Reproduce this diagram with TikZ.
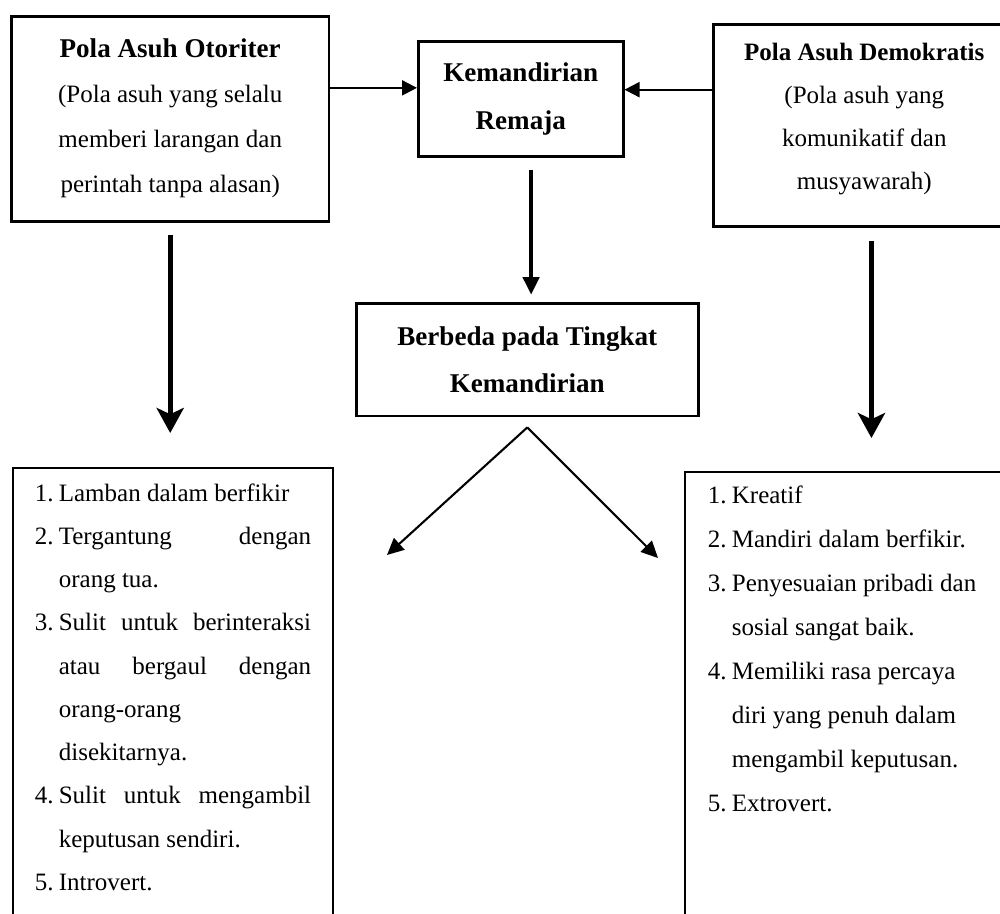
\documentclass[tikz,border=0pt]{standalone}
\usepackage{fontspec}
\setmainfont{Liberation Serif}
\usetikzlibrary{arrows.meta, positioning}
\newlength\numw
\setlength\numw{11.5pt}
\newcommand\itm[2]{\hangindent=\numw\hangafter=1\noindent\makebox[\numw][l]{#1.}#2\par}
\tikzset{
  every picture/.style={line width=1.2pt},
  box/.style={draw, anchor=north west, align=flush center, inner sep=3pt},
  head/.style={font=\fontsize{13}{23}\selectfont\bfseries},
  txt/.style={font=\fontsize{12}{#1}\selectfont},
  list/.style={anchor=north west, outer sep=0pt, font=\fontsize{12}{#1}\selectfont,
    execute at begin node={\tolerance=10000}},
  link/.style={-{Triangle[length=7.2pt, width=7.2pt]}, line width=1pt},
  down/.style={-{Triangle[length=8.6pt, width=7.7pt]}, line width=2.2pt},
  bigdown/.style={-{Stealth[length=12pt, width=13pt, inset=3pt]}, line width=2.6pt},
  fork/.style={-{Triangle[length=8pt, width=7.5pt]}, line width=1pt},
}

\begin{document}
\begin{tikzpicture}[x=0.48pt, y=-0.48pt]
  \useasboundingbox (0,0) rectangle (1000,913);
  \node[box, txt=21.6, text width=146pt, minimum width=152.6pt, minimum height=98.4pt] (otoriter) at (10,15)
    {{\fontsize{13}{21.6}\selectfont\bfseries Pola Asuh Otoriter}\\ (Pola asuh yang selalu\\ memberi larangan dan\\ perintah tanpa alasan)};
  \node[box, head, text width=92pt, minimum width=98.4pt, minimum height=55.2pt] (remaja) at (417,40)
    {Kemandirian\\ Remaja};
  \node[box, txt=20.6, text width=139pt, minimum width=145pt, minimum height=97pt] (demokratis) at (712,23)
    {{\bfseries Pola Asuh Demokratis}\\ (Pola asuh yang\\ komunikatif dan\\ musyawarah)\rule[-8.4pt]{0pt}{8.4pt}};
  \node[box, head, text width=158pt, minimum width=164.2pt, minimum height=54.2pt] (tingkat) at (355,302)
    {Berbeda pada Tingkat\\ Kemandirian};

  % lists, open at the bottom
  \node[list=20.75, align=justify, text width=132.6pt, inner xsep=10.5pt, inner ysep=7.5pt] (ciriO) at (13,468) {%
    \itm{1}{Lamban dalam berfikir}
    \itm{2}{Tergantung dengan\linebreak orang tua.}
    \itm{3}{Sulit untuk berinteraksi\linebreak atau bergaul dengan\linebreak orang-orang\newline disekitarnya.}
    \itm{4}{Sulit untuk mengambil\linebreak keputusan sendiri.}
    \itm{5}{Introvert.}};
  \node[list=21.1, align=flush left, text width=134pt, inner xsep=11pt, inner ysep=6.7pt] (ciriD) at (685,472) {%
    \itm{1}{Kreatif}
    \itm{2}{Mandiri dalam berfikir.}
    \itm{3}{Penyesuaian pribadi dan\newline sosial sangat baik.}
    \itm{4}{Memiliki rasa percaya\newline diri yang penuh dalam\newline mengambil keputusan.}
    \itm{5}{Extrovert.}};
  \coordinate (floor) at (0,925);
  \draw (ciriO.north west |- floor) -- (ciriO.north west) -- (ciriO.north east) -- (ciriO.north east |- floor);
  \draw (ciriD.north west |- floor) -- (ciriD.north west) -- (ciriD.north east);

  \draw[link] (otoriter.east |- remaja.174) -- (remaja.174);
  \draw[link] (demokratis.west |- remaja.5) -- (remaja.5);
  \draw[down, shorten <=5.8pt, shorten >=3.4pt] (remaja.-80) -- (remaja.-80 |- tingkat.north);
  \draw[bigdown, shorten <=6.2pt, shorten >=16.8pt] (otoriter.south) -- (otoriter.south |- ciriO.north);
  \draw[bigdown, shorten <=6.2pt, shorten >=16.3pt] (demokratis.-86) -- (demokratis.-86 |- ciriD.north);

  \coordinate[below=4.8pt of tingkat.south] (apex);
  \coordinate (leftend) at (387,555);
  \coordinate (rightend) at (658,558);
  \draw[fork] (apex) -- (leftend);
  \draw[fork] (apex) -- (rightend);
\end{tikzpicture}
\end{document}
